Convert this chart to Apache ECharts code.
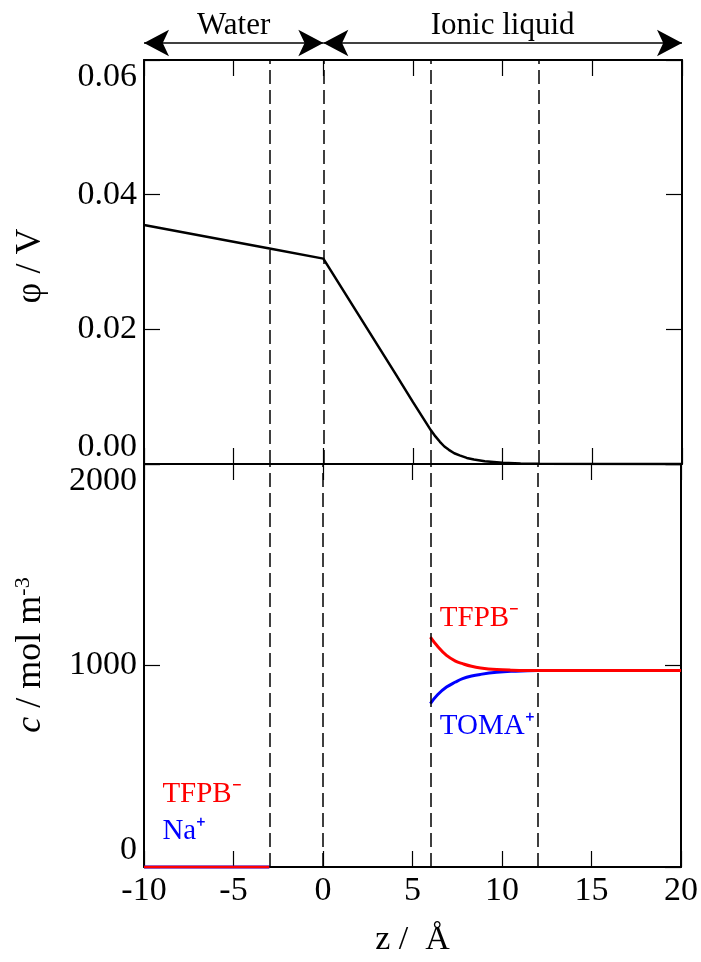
<!DOCTYPE html>
<html>
<head>
<meta charset="utf-8">
<title>Potential and concentration profiles</title>
<script src="https://cdn.jsdelivr.net/npm/echarts@6/dist/echarts.min.js"></script>
<style>
html,body{margin:0;padding:0;background:#fff;}
#chart{width:701px;height:962px;}
</style>
</head>
<body>
<div id="chart"></div>
<script>
var zRange = [-10, 20];
var zTicks = 5;
var dividers = [-3, 0, 6, 12];
var phases = [
	{ name: 'Water', from: -10, to: 0 },
	{ name: 'Ionic liquid', from: 0, to: 20 }
];

// potential phi (V) along z (A)
var phiZ = [-10, -3, 0, 2, 4, 5, 6, 6.25, 6.5, 6.75, 7, 7.3, 7.6, 8, 8.4, 9, 10, 11, 12, 20];
var phiV = [0.0355, 0.0320, 0.0305, 0.0220, 0.0135, 0.0092, 0.0050, 0.0041, 0.0033, 0.0026, 0.0021, 0.0016, 0.00128, 0.0009, 0.00066, 0.0004, 0.0002, 0.00007, 0.00002, 0];
var phiTicks = [0, 0.06, 0.02];

// concentrations (mol m-3)
var waterZ = [-10, -3];
var naWater = [0, 0];
var tfpbWater = [0, 0];
var ilZ = [6, 6.4, 6.9, 7.4, 7.8, 8.3, 8.8, 9.7, 10.5, 12, 20];
var tfpbIL = [1141, 1095, 1050, 1022, 1009, 996, 988, 980, 977, 975, 975];
var tomaIL = [811, 855, 893, 918, 935, 948, 956, 966, 971, 975, 975];
var cTicks = [0, 2000, 1000];

var FONT = 'Liberation Serif';
var RED = '#ff0000';
var BLUE = '#0000ff';

function pairs(xs, ys) {
	var out = [];
	for (var i = 0; i < xs.length; i++) out.push([xs[i], ys[i]]);
	return out;
}

function zAxis(grid, pos, showLabel) {
	return {
		type: 'value', gridIndex: grid, position: pos,
		min: zRange[0], max: zRange[1], interval: zTicks,
		axisLine: { show: true, onZero: false, lineStyle: { color: '#000', width: 2 } },
		axisTick: { show: true, inside: true, length: 16, lineStyle: { color: '#000', width: 1.2 } },
		axisLabel: { show: showLabel, color: '#000', fontSize: 34, fontFamily: FONT, margin: 7 },
		splitLine: { show: false }
	};
}

function valAxis(grid, pos, ticks, fmt) {
	return {
		type: 'value', gridIndex: grid, position: pos,
		min: ticks[0], max: ticks[1], interval: ticks[2],
		axisLine: { show: true, onZero: false, lineStyle: { color: '#000', width: 2 } },
		axisTick: { show: true, inside: true, length: 16, lineStyle: { color: '#000', width: 1.2 } },
		axisLabel: {
			show: pos == 'left', color: '#000', fontSize: 34, fontFamily: FONT, margin: 7,
			verticalAlignMinLabel: 'bottom', verticalAlignMaxLabel: 'top',
			formatter: fmt
		},
		splitLine: { show: false }
	};
}

var dashed = {
	silent: true,
	symbol: 'none',
	label: { show: false },
	lineStyle: { type: [14, 6], color: '#000', width: 1.5 },
	data: dividers.map(function (v) { return { xAxis: v }; })
};

function note(text, z, c, color) {
	return {
		coord: [z, c],
		label: { formatter: text, color: color }
	};
}

var notePoints = {
	silent: true,
	symbol: 'circle',
	symbolSize: 1,
	itemStyle: { color: 'rgba(0,0,0,0)' },
	label: { show: true, position: 'right', distance: 0, fontSize: 29, fontFamily: FONT },
	data: [
		note('TFPB\u207B', 6.5, 1235, RED),
		note('TOMA\u207A', 6.5, 700, BLUE),
		note('TFPB\u207B', -9, 360, RED),
		note('Na\u207A', -9, 179, BLUE)
	]
};

function arrowEnd(z) {
	return { coord: [z, 0.5], symbol: 'arrow', symbolSize: [20, 25] };
}

var myChart = echarts.init(document.getElementById('chart'));

var option = {
	animation: false,
	backgroundColor: '#fff',
	grid: [
		{ left: 144, right: 19, top: 60, height: 404 },
		{ left: 144, right: 19, top: 464, height: 403 },
		{ left: 144, right: 19, top: 31, height: 24 }
	],
	xAxis: [
		zAxis(0, 'bottom', false),
		zAxis(0, 'top', false),
		zAxis(1, 'top', false),
		Object.assign(zAxis(1, 'bottom', true), {
			name: 'z /  \u00C5', nameLocation: 'middle', nameGap: 56,
			nameTextStyle: { color: '#000', fontSize: 34, fontFamily: FONT }
		}),
		{ type: 'value', gridIndex: 2, min: zRange[0], max: zRange[1], show: false }
	],
	yAxis: [
		valAxis(0, 'left', phiTicks, function (v) { return v.toFixed(2); }),
		valAxis(0, 'right', phiTicks),
		valAxis(1, 'left', cTicks, function (v) { return String(v); }),
		valAxis(1, 'right', cTicks),
		{ type: 'value', gridIndex: 2, min: 0, max: 1, show: false }
	],
	graphic: [
		{
			type: 'text', x: 31, y: 266, rotation: Math.PI / 2,
			style: { text: '\u03C6 / V', fill: '#000', fontSize: 36, fontFamily: FONT, align: 'center', verticalAlign: 'middle' }
		},
		{
			type: 'text', x: 31, y: 655, rotation: Math.PI / 2,
			style: {
				text: '{i|c} / mol m{s|-3}', fill: '#000', fontSize: 36, fontFamily: FONT,
				align: 'center', verticalAlign: 'middle',
				rich: {
					i: { fontSize: 36, fontFamily: FONT, fontStyle: 'italic', fill: '#000' },
					s: { fontSize: 22, fontFamily: FONT, fill: '#000', verticalAlign: 'top', padding: [0, 0, 16, 0] }
				}
			}
		}
	],
	series: [
		{
			name: 'phi', type: 'line', xAxisIndex: 0, yAxisIndex: 0,
			data: pairs(phiZ, phiV), symbol: 'none', clip: false,
			lineStyle: { color: '#000', width: 2.5 },
			markLine: dashed
		},
		{
			name: 'Na+', type: 'line', xAxisIndex: 3, yAxisIndex: 2,
			data: pairs(waterZ, naWater), symbol: 'none', clip: false,
			lineStyle: { color: BLUE, width: 3 }
		},
		{
			name: 'TFPB- water', type: 'line', xAxisIndex: 3, yAxisIndex: 2,
			data: pairs(waterZ, tfpbWater), symbol: 'none', clip: false,
			lineStyle: { color: RED, width: 2.5 }
		},
		{
			name: 'TOMA+', type: 'line', xAxisIndex: 3, yAxisIndex: 2,
			data: pairs(ilZ, tomaIL), symbol: 'none', smooth: 0.4,
			lineStyle: { color: BLUE, width: 3 }
		},
		{
			name: 'TFPB- IL', type: 'line', xAxisIndex: 3, yAxisIndex: 2,
			data: pairs(ilZ, tfpbIL), symbol: 'none', smooth: 0.4,
			lineStyle: { color: RED, width: 3 },
			markLine: dashed,
			markPoint: notePoints
		},
		{
			name: 'phases', type: 'line', xAxisIndex: 4, yAxisIndex: 4,
			data: [[zRange[0], 0.5], [zRange[1], 0.5]], symbol: 'none',
			lineStyle: { opacity: 0 },
			markLine: {
				silent: true,
				symbol: ['arrow', 'arrow'],
				symbolSize: 20,
				lineStyle: { type: 'solid', color: '#000', width: 1.5 },
				label: {
					show: true, position: 'middle', formatter: '{b}', distance: 2,
					color: '#000', fontSize: 31, fontFamily: FONT
				},
				data: phases.map(function (p) {
					var a = arrowEnd(p.from);
					a.name = p.name;
					return [a, arrowEnd(p.to)];
				})
			}
		}
	]
};

myChart.setOption(option);
</script>
</body>
</html>
